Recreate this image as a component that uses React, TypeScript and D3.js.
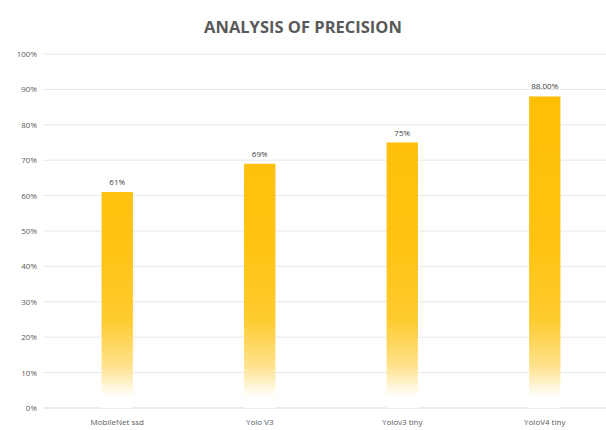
import React from "react";
import * as d3 from "d3";

const categories = ["MobileNet ssd", "Yolo V3", "Yolov3 tiny", "YoloV4 tiny"];
const values = [0.61, 0.69, 0.75, 0.88];
const valueLabels = ["61%", "69%", "75%", "88.00%"];
const yTicks = [0, 0.1, 0.2, 0.3, 0.4, 0.5, 0.6, 0.7, 0.8, 0.9, 1.0];

const W = 606;
const H = 430;
const FONT = "Open Sans, Liberation Sans, sans-serif";

export default function App() {
  const x = d3.scaleBand<string>().domain(categories).range([46, 616]).paddingInner(0.78).paddingOuter(0.39);
  const y = d3.scaleLinear().domain([0, 1]).range([408, 54]);
  const fmt = d3.format(".0%");
  const bw = x.bandwidth();

  return (
    <svg width={W} height={H} style={{ position: "absolute", left: 0, top: 0, background: "#fff" }}>
      <defs>
        <linearGradient id="barGrad" gradientUnits="userSpaceOnUse" x1="0" x2="0" y1={y(1)} y2={y(0)}>
          <stop offset="0" stopColor="#FFBD00" />
          <stop offset="0.55" stopColor="#FFC312" />
          <stop offset="0.75" stopColor="#FFCB30" />
          <stop offset="0.88" stopColor="#FFE28C" />
          <stop offset="0.97" stopColor="#FFFFFF" />
          <stop offset="1" stopColor="#FFFFFF" />
        </linearGradient>
      </defs>
      <text x={303} y={33} textAnchor="middle" fontFamily={FONT} fontWeight="bold" fontSize={16.5} fill="#595959">
        ANALYSIS OF PRECISION
      </text>
      {yTicks.map((t) => (
        <g key={t}>
          <line x1={43} x2={W} y1={y(t)} y2={y(t)} stroke={t === 0 ? "#D9D9D9" : "#E8E8E8"} strokeWidth={1} />
          <text x={37} y={y(t) + 3} textAnchor="end" fontFamily={FONT} fontSize={8} fill="#595959">
            {fmt(t)}
          </text>
        </g>
      ))}
      {categories.map((c, i) => (
        <g key={c}>
          <rect x={x(c)} y={y(values[i])} width={bw} height={y(0) - y(values[i])} fill="url(#barGrad)" />
          <text x={(x(c) as number) + bw / 2} y={y(values[i]) - 7} textAnchor="middle" fontFamily={FONT} fontSize={8} fill="#404040">
            {valueLabels[i]}
          </text>
          <text x={(x(c) as number) + bw / 2} y={425} textAnchor="middle" fontFamily={FONT} fontSize={8} fill="#595959">
            {c}
          </text>
        </g>
      ))}
    </svg>
  );
}
